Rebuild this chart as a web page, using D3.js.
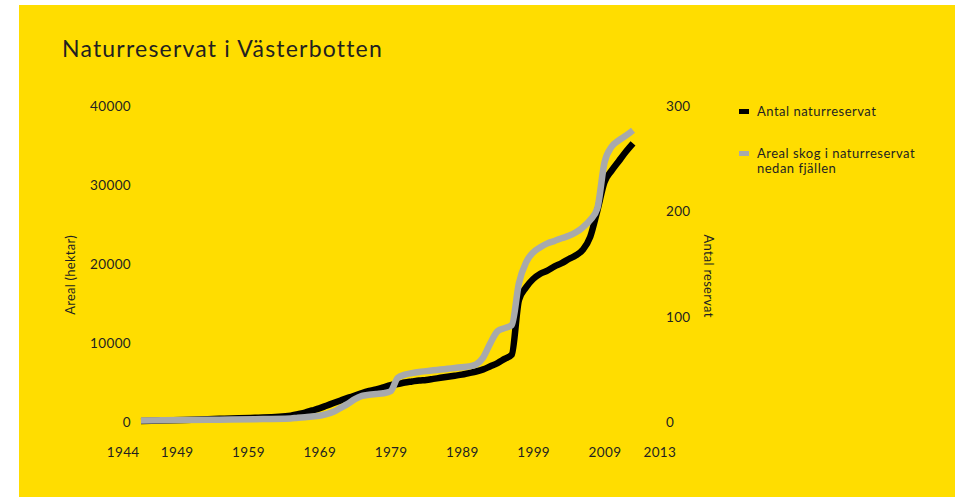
<!DOCTYPE html>
<html><head><meta charset="utf-8">
<script src="https://cdn.jsdelivr.net/npm/d3@7/dist/d3.min.js"></script>
<style>
html,body{margin:0;padding:0;background:#fff;}
svg{display:block;}
text{font-family:Lato,"Open Sans",sans-serif;fill:#231f20;}
</style></head><body>
<svg id="chart" width="955" height="497"></svg>
<script>
const years = [1944,1950,1955,1960,1965,1966,1967,1968,1969,1970,1971,1972,1973,1974,1975,1976,1977,1978,1979,1980,
  1981,1982,1983,1984,1985,1986,1987,1988,1989,1990,1991,1992,1993,1994,1995,1996,1997,1998,1999,2000,
  2001,2002,2003,2004,2005,2006,2007,2008,2009,2010,2011,2012,2013];
// Antal naturreservat (right axis)
const antal = [1,2,3,4,6,7.5,9,11,13,15.5,18,20.5,23,25,27.5,29.5,31,33,35,36,
  37.5,38.5,39.5,40,41,42,43,44,45,46.5,48,50,53,56,60,64,116,128,136,141,
  144,148,151,155,158.5,164,176,201,228,239,248,257,265];
// Areal skog i naturreservat nedan fjällen (left axis, hektar)
const areal = [200,250,300,350,450,550,600,700,800,1000,1300,1800,2300,2900,3300,3450,3550,3650,3900,5600,
  6000,6200,6350,6450,6550,6650,6750,6850,6950,7050,7300,8200,10000,11500,11900,12300,17600,20250,21500,22150,
  22650,22950,23300,23600,24050,24700,25600,27100,32900,34900,35700,36300,37000];

const xTicks = [1944,1949,1959,1969,1979,1989,1999,2009,2013];
const leftTicks = [0,10000,20000,30000,40000];
const rightTicks = [0,100,200,300];

const FONT = "Lato, 'Open Sans', sans-serif";
const svg = d3.select("#chart");
svg.append("rect").attr("x",0).attr("y",0).attr("width",955).attr("height",497).attr("fill","#ffffff");
svg.append("rect").attr("x",19).attr("y",5).attr("width",936).attr("height",492).attr("fill","#ffdd00");

const x = d3.scaleLinear().domain([1944,2013]).range([141,633]);
const yL = d3.scaleLinear().domain([0,40000]).range([422,106.5]);
const yR = d3.scaleLinear().domain([0,300]).range([422,106.5]);

svg.append("text").attr("x",62).attr("y",57).attr("font-size",23).attr("letter-spacing",1.2)
  .text("Naturreservat i Västerbotten");

function styleAxis(g){
  g.select(".domain").remove();
  g.selectAll("text").attr("font-size",13.5).attr("font-family",FONT).attr("fill","#231f20")
    .attr("letter-spacing",0.35);
}
// left axis
const gl = svg.append("g").attr("transform","translate(141,0)")
  .call(d3.axisLeft(yL).tickValues(leftTicks).tickSize(0).tickPadding(10).tickFormat(d3.format("d")));
styleAxis(gl);

// right axis
const gr = svg.append("g").attr("transform","translate(656,0)")
  .call(d3.axisRight(yR).tickValues(rightTicks).tickSize(0).tickPadding(10).tickFormat(d3.format("d")));
styleAxis(gr);

// bottom axis
const gb = svg.append("g").attr("transform","translate(0,422)")
  .call(d3.axisBottom(x).tickValues(xTicks).tickSize(0).tickPadding(25).tickFormat(d3.format("d")));
styleAxis(gb);
gb.selectAll(".tick").filter(d => d === 1944).select("text").attr("text-anchor","end").attr("x",-2);
gb.selectAll(".tick").filter(d => d === 2013).select("text").attr("text-anchor","start").attr("x",10);

// axis titles
svg.append("text").attr("transform","translate(70,275) rotate(-90)").attr("text-anchor","middle")
  .attr("dominant-baseline","central").attr("font-size",13).attr("letter-spacing",0.25).text("Areal (hektar)");
svg.append("text").attr("transform","translate(709,276) rotate(90)").attr("text-anchor","middle")
  .attr("dominant-baseline","central").attr("font-size",13).attr("letter-spacing",0.25).text("Antal reservat");

// lines
const lineR = d3.line().x((d,i)=>x(years[i])).y(d=>yR(d)).curve(d3.curveMonotoneX);
const lineL = d3.line().x((d,i)=>x(years[i])).y(d=>yL(d)).curve(d3.curveMonotoneX);
svg.append("path").attr("d",lineR(antal)).attr("fill","none").attr("stroke","#000").attr("stroke-width",6.5);
svg.append("path").attr("d",lineL(areal)).attr("fill","none").attr("stroke","#a7a9ac").attr("stroke-width",6.5);

// legend
svg.append("rect").attr("x",739).attr("y",109).attr("width",10).attr("height",5).attr("fill","#000");
svg.append("text").attr("x",757).attr("y",116).attr("font-size",13).attr("letter-spacing",0.5)
  .text("Antal naturreservat");
svg.append("rect").attr("x",739).attr("y",151).attr("width",10).attr("height",5).attr("fill","#a7a9ac");
const lt = svg.append("text").attr("x",757).attr("y",158).attr("font-size",13).attr("letter-spacing",0.5);
lt.append("tspan").attr("x",757).attr("y",158).text("Areal skog i naturreservat");
lt.append("tspan").attr("x",757).attr("y",173).text("nedan fjällen");
</script>
</body></html>
